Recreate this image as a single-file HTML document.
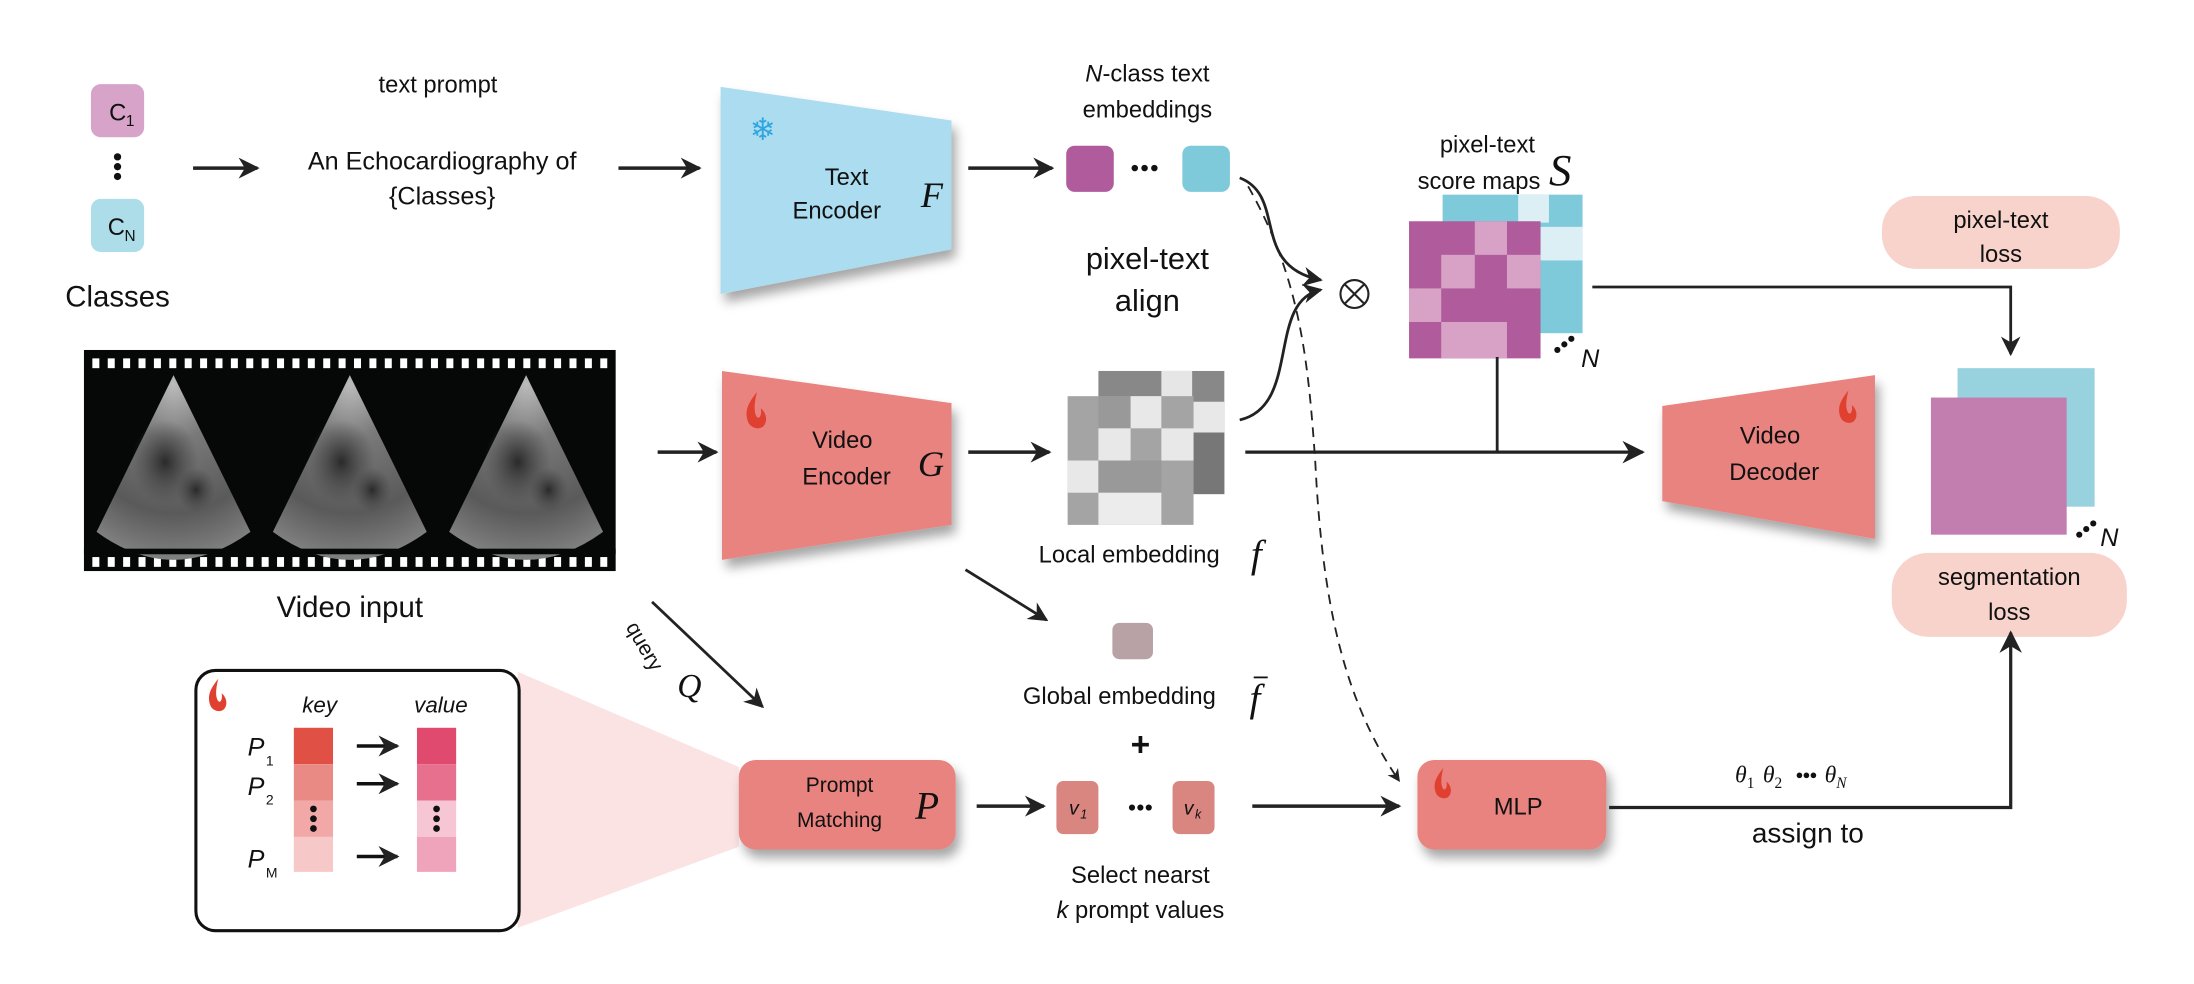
<!DOCTYPE html>
<html><head><meta charset="utf-8"><style>
html,body{margin:0;padding:0;background:#fff;}
svg{display:block;}
text{font-family:"Liberation Sans",sans-serif;fill:#111;}
.m{font-family:"Liberation Serif",serif;font-style:italic;}
</style></head><body>
<svg width="2194" height="984" viewBox="0 0 1568 703" xmlns="http://www.w3.org/2000/svg">
<defs>
<marker id="ah" viewBox="0 0 10 10" refX="9" refY="5" markerWidth="6" markerHeight="6" orient="auto-start-reverse"><path d="M0,0 L10,5 L0,10 L3,5 z" fill="#222"/></marker>
<marker id="ahs" viewBox="0 0 10 10" refX="9" refY="5" markerWidth="7" markerHeight="7" orient="auto"><path d="M0,0 L10,5 L0,10 L3,5 z" fill="#222"/></marker>
<filter id="sh" x="-20%" y="-20%" width="150%" height="160%"><feDropShadow dx="3" dy="6" stdDeviation="4" flood-color="#000" flood-opacity="0.35"/></filter>
<radialGradient id="us" cx="0.5" cy="0.05" r="1"><stop offset="0" stop-color="#bbb"/><stop offset="0.3" stop-color="#7a7a7a"/><stop offset="0.7" stop-color="#5a5a5a"/><stop offset="1" stop-color="#888"/></radialGradient>
<radialGradient id="cav" cx="0.5" cy="0.5" r="0.5"><stop offset="0" stop-color="#2a2a2a"/><stop offset="1" stop-color="#444" stop-opacity="0"/></radialGradient>
<symbol id="flame" viewBox="0 0 20 30"><path d="M10,0 C2,10 0,16 3,24 C5,29 13,31 16,26 C19,21 16,15 13,13 C14,18 12,22 10,20 C7,16 8,8 10,0z" fill="#e0402f"/></symbol>
</defs>

<!-- Classes -->
<rect x="65" y="60" width="38" height="38" rx="7" fill="#d8a3c9"/>
<text x="78" y="86" font-size="17">C</text><text x="90" y="90" font-size="11">1</text>
<circle cx="84" cy="112" r="2.6" fill="#111"/><circle cx="84" cy="119" r="2.6" fill="#111"/><circle cx="84" cy="126" r="2.6" fill="#111"/>
<rect x="65" y="142" width="38" height="38" rx="7" fill="#acdde8"/>
<text x="77" y="168" font-size="17">C</text><text x="89" y="172" font-size="11">N</text>
<text x="84" y="219" font-size="21" text-anchor="middle">Classes</text>
<line x1="138" y1="120" x2="184" y2="120" stroke="#222" stroke-width="2.5" marker-end="url(#ah)"/>

<text x="313" y="66" font-size="17" text-anchor="middle">text prompt</text>
<text x="316" y="121" font-size="18" text-anchor="middle">An Echocardiography of</text>
<text x="316" y="146" font-size="18" text-anchor="middle">{Classes}</text>
<line x1="442" y1="120" x2="500" y2="120" stroke="#222" stroke-width="2.5" marker-end="url(#ah)"/>

<!-- Text encoder -->
<polygon points="515,62 680,86 680,178 515,210" fill="#abdcef" filter="url(#sh)"/>
<text x="545" y="100" font-size="22" text-anchor="middle" style="fill:#2fa6e0">❄</text>
<text x="605" y="132" font-size="17" text-anchor="middle">Text</text>
<text x="598" y="156" font-size="17" text-anchor="middle">Encoder</text>
<text x="658" y="148" font-size="26" class="m">F</text>
<line x1="692" y1="120" x2="752" y2="120" stroke="#222" stroke-width="2.5" marker-end="url(#ah)"/>

<text x="820" y="58" font-size="17" text-anchor="middle"><tspan font-style="italic">N</tspan>-class text</text>
<text x="820" y="84" font-size="17" text-anchor="middle">embeddings</text>
<rect x="762" y="104" width="34" height="33" rx="6" fill="#b05c9c"/>
<circle cx="811" cy="120" r="2.3" fill="#111"/><circle cx="818" cy="120" r="2.3" fill="#111"/><circle cx="825" cy="120" r="2.3" fill="#111"/>
<rect x="845" y="104" width="34" height="33" rx="6" fill="#7ecadb"/>
<text x="820" y="192" font-size="22" text-anchor="middle">pixel-text</text>
<text x="820" y="222" font-size="22" text-anchor="middle">align</text>

<!-- curves -->
<path d="M886,127 C920,140 893,190 944,200" fill="none" stroke="#222" stroke-width="2" marker-end="url(#ahs)"/>
<path d="M886,300 C930,290 905,215 944,207" fill="none" stroke="#222" stroke-width="2" marker-end="url(#ahs)"/>
<circle cx="968" cy="210" r="10" fill="none" stroke="#222" stroke-width="1.5"/>
<line x1="961" y1="203" x2="975" y2="217" stroke="#222" stroke-width="1.5"/><line x1="975" y1="203" x2="961" y2="217" stroke="#222" stroke-width="1.5"/>
<path d="M892,133 C930,200 935,260 940,330 C945,430 960,500 1000,558" fill="none" stroke="#222" stroke-width="1.3" stroke-dasharray="7,5" marker-end="url(#ahs)"/>

<!-- score maps -->
<text x="1063" y="109" font-size="17" text-anchor="middle">pixel-text</text>
<text x="1057" y="135" font-size="17" text-anchor="middle">score maps</text>
<text x="1107" y="132" font-size="32" class="m">S</text>
<rect x="1031" y="139" width="100" height="99" fill="#7ecadb"/>
<rect x="1085" y="139" width="22" height="20" fill="#dbeff5"/><rect x="1100" y="162" width="31" height="24" fill="#dbeff5"/>
<g>
<rect x="1007" y="158" width="94" height="98" fill="#b05c9c"/>
<rect x="1054" y="158" width="23" height="24" fill="#d7a2c6"/>
<rect x="1030" y="182" width="24" height="24" fill="#d7a2c6"/><rect x="1077" y="182" width="24" height="24" fill="#d7a2c6"/>
<rect x="1007" y="206" width="23" height="24" fill="#d7a2c6"/>
<rect x="1030" y="230" width="47" height="26" fill="#d7a2c6"/>
</g>
<circle cx="1113" cy="250" r="2.2" fill="#111"/><circle cx="1118" cy="246" r="2.2" fill="#111"/><circle cx="1123" cy="242" r="2.2" fill="#111"/>
<text x="1130" y="262" font-size="18" font-style="italic">N</text>

<rect x="1345" y="140" width="170" height="52" rx="24" fill="#f7d3cc"/>
<text x="1430" y="163" font-size="17" text-anchor="middle">pixel-text</text>
<text x="1430" y="187" font-size="17" text-anchor="middle">loss</text>
<polyline points="1138,205 1437,205 1437,253" fill="none" stroke="#222" stroke-width="2" marker-end="url(#ahs)"/>

<!-- Video film -->
<rect x="60" y="250" width="380" height="158" fill="#060808"/>
<g id="perf">
<rect x="66" y="256" width="5" height="7" fill="#fff"/><rect x="77" y="256" width="5" height="7" fill="#fff"/><rect x="88" y="256" width="5" height="7" fill="#fff"/><rect x="99" y="256" width="5" height="7" fill="#fff"/><rect x="110" y="256" width="5" height="7" fill="#fff"/><rect x="121" y="256" width="5" height="7" fill="#fff"/><rect x="132" y="256" width="5" height="7" fill="#fff"/><rect x="143" y="256" width="5" height="7" fill="#fff"/><rect x="154" y="256" width="5" height="7" fill="#fff"/><rect x="165" y="256" width="5" height="7" fill="#fff"/><rect x="176" y="256" width="5" height="7" fill="#fff"/><rect x="187" y="256" width="5" height="7" fill="#fff"/><rect x="198" y="256" width="5" height="7" fill="#fff"/><rect x="209" y="256" width="5" height="7" fill="#fff"/><rect x="220" y="256" width="5" height="7" fill="#fff"/><rect x="231" y="256" width="5" height="7" fill="#fff"/><rect x="242" y="256" width="5" height="7" fill="#fff"/><rect x="253" y="256" width="5" height="7" fill="#fff"/><rect x="264" y="256" width="5" height="7" fill="#fff"/><rect x="275" y="256" width="5" height="7" fill="#fff"/><rect x="286" y="256" width="5" height="7" fill="#fff"/><rect x="297" y="256" width="5" height="7" fill="#fff"/><rect x="308" y="256" width="5" height="7" fill="#fff"/><rect x="319" y="256" width="5" height="7" fill="#fff"/><rect x="330" y="256" width="5" height="7" fill="#fff"/><rect x="341" y="256" width="5" height="7" fill="#fff"/><rect x="352" y="256" width="5" height="7" fill="#fff"/><rect x="363" y="256" width="5" height="7" fill="#fff"/><rect x="374" y="256" width="5" height="7" fill="#fff"/><rect x="385" y="256" width="5" height="7" fill="#fff"/><rect x="396" y="256" width="5" height="7" fill="#fff"/><rect x="407" y="256" width="5" height="7" fill="#fff"/><rect x="418" y="256" width="5" height="7" fill="#fff"/><rect x="429" y="256" width="5" height="7" fill="#fff"/>
</g>
<use href="#perf" y="142"/>
<g id="fan">
<path d="M124,268 L69,380 Q124,420 179,380 z" fill="url(#us)"/>
<ellipse cx="118" cy="330" rx="24" ry="30" fill="url(#cav)"/>
<ellipse cx="140" cy="350" rx="14" ry="16" fill="url(#cav)"/>
</g>
<use href="#fan" x="126"/>
<use href="#fan" x="252"/>
<rect x="60" y="392" width="380" height="4" fill="#060808"/>
<text x="250" y="441" font-size="21" text-anchor="middle">Video input</text>
<line x1="470" y1="323" x2="512" y2="323" stroke="#222" stroke-width="2.5" marker-end="url(#ah)"/>

<!-- Video encoder -->
<polygon points="516,265 680,288 680,375 516,400" fill="#e8837f" filter="url(#sh)"/>
<use href="#flame" x="532" y="280" width="18" height="27"/>
<text x="602" y="320" font-size="17" text-anchor="middle">Video</text>
<text x="605" y="346" font-size="17" text-anchor="middle">Encoder</text>
<text x="656" y="340" font-size="26" class="m">G</text>
<line x1="692" y1="323" x2="750" y2="323" stroke="#222" stroke-width="2.5" marker-end="url(#ah)"/>

<!-- local embedding -->
<rect x="785" y="265" width="90" height="88" fill="#888"/>
<rect x="830" y="265" width="22" height="22" fill="#e6e6e6"/><rect x="852" y="287" width="23" height="22" fill="#e8e8e8"/><rect x="852" y="309" width="23" height="44" fill="#777"/>
<rect x="763" y="283" width="90" height="92" fill="#a4a4a4"/>
<rect x="785" y="283" width="23" height="23" fill="#999"/><rect x="808" y="283" width="22" height="23" fill="#e8e8e8"/>
<rect x="785" y="306" width="23" height="23" fill="#e8e8e8"/><rect x="830" y="306" width="23" height="23" fill="#e8e8e8"/>
<rect x="763" y="329" width="22" height="23" fill="#e8e8e8"/><rect x="785" y="329" width="45" height="23" fill="#999"/>
<rect x="785" y="352" width="45" height="23" fill="#ececec"/>
<text x="807" y="402" font-size="17" text-anchor="middle">Local embedding</text>
<text x="894" y="405" font-size="28" class="m">f</text>

<line x1="890" y1="323" x2="1174" y2="323" stroke="#222" stroke-width="2.3" marker-end="url(#ahs)"/>
<line x1="1070" y1="255" x2="1070" y2="323" stroke="#222" stroke-width="2"/>

<!-- Video decoder -->
<polygon points="1188,290 1340,268 1340,385 1188,358" fill="#e8837f" filter="url(#sh)"/>
<use href="#flame" x="1313" y="278" width="16" height="26"/>
<text x="1265" y="317" font-size="17" text-anchor="middle">Video</text>
<text x="1268" y="343" font-size="17" text-anchor="middle">Decoder</text>

<rect x="1399" y="263" width="98" height="99" fill="#98d2df"/>
<rect x="1380" y="284" width="97" height="98" fill="#c27eaf"/>
<circle cx="1486" cy="382" r="2.2" fill="#111"/><circle cx="1491" cy="378" r="2.2" fill="#111"/><circle cx="1496" cy="374" r="2.2" fill="#111"/>
<text x="1501" y="390" font-size="18" font-style="italic">N</text>
<rect x="1352" y="395" width="168" height="60" rx="26" fill="#f7d3cc"/>
<text x="1436" y="418" font-size="17" text-anchor="middle">segmentation</text>
<text x="1436" y="443" font-size="17" text-anchor="middle">loss</text>

<!-- Global embedding -->
<line x1="690" y1="407" x2="748" y2="443" stroke="#222" stroke-width="2" marker-end="url(#ahs)"/>
<rect x="795" y="445" width="29" height="26" rx="5" fill="#b8a2a6"/>
<text x="800" y="503" font-size="17" text-anchor="middle">Global embedding</text>
<text x="893" y="508" font-size="28" class="m">f</text>
<line x1="896" y1="484" x2="906" y2="484" stroke="#111" stroke-width="1.3"/>
<text x="815" y="540" font-size="24" font-weight="bold" text-anchor="middle">+</text>

<!-- query -->
<line x1="466" y1="430" x2="545" y2="505" stroke="#222" stroke-width="2" marker-end="url(#ahs)"/>
<text x="447" y="448" font-size="15" transform="rotate(60 447 448)">query</text>
<text x="484" y="498" font-size="24" class="m">Q</text>

<!-- prompt pool -->
<polygon points="370,480 528,548 528,605 370,663" fill="#fbe3e3"/>
<rect x="140" y="479" width="231" height="186" rx="14" fill="#fff" stroke="#111" stroke-width="2.2"/>
<use href="#flame" x="148" y="484" width="16" height="26"/>
<text x="216" y="509" font-size="16" font-style="italic">key</text>
<text x="296" y="509" font-size="16" font-style="italic">value</text>
<rect x="210" y="520" width="28" height="26" fill="#e05044"/><rect x="210" y="546" width="28" height="26" fill="#ea8a84"/><rect x="210" y="572" width="28" height="26" fill="#f1a8a6"/><rect x="210" y="598" width="28" height="25" fill="#f7c8c8"/>
<rect x="298" y="520" width="28" height="26" fill="#e04a6e"/><rect x="298" y="546" width="28" height="26" fill="#e6708e"/><rect x="298" y="572" width="28" height="26" fill="#f6c6d4"/><rect x="298" y="598" width="28" height="25" fill="#f0a4bc"/>
<g fill="#111"><circle cx="224" cy="578" r="2.4"/><circle cx="224" cy="585" r="2.4"/><circle cx="224" cy="592" r="2.4"/><circle cx="312" cy="578" r="2.4"/><circle cx="312" cy="585" r="2.4"/><circle cx="312" cy="592" r="2.4"/></g>
<text x="177" y="540" font-size="18" font-style="italic">P</text><text x="190" y="547" font-size="10">1</text>
<text x="177" y="568" font-size="18" font-style="italic">P</text><text x="190" y="575" font-size="10">2</text>
<text x="177" y="620" font-size="18" font-style="italic">P</text><text x="190" y="627" font-size="10">M</text>
<g stroke="#111" stroke-width="2.5"><line x1="255" y1="533" x2="284" y2="533" marker-end="url(#ah)"/><line x1="255" y1="560" x2="284" y2="560" marker-end="url(#ah)"/><line x1="255" y1="612" x2="284" y2="612" marker-end="url(#ah)"/></g>

<!-- prompt matching -->
<rect x="528" y="543" width="155" height="64" rx="12" fill="#e8837f" filter="url(#sh)"/>
<text x="600" y="566" font-size="15" text-anchor="middle">Prompt</text>
<text x="600" y="591" font-size="15" text-anchor="middle">Matching</text>
<text x="654" y="585" font-size="28" class="m">P</text>
<line x1="698" y1="576" x2="746" y2="576" stroke="#222" stroke-width="2.5" marker-end="url(#ah)"/>
<rect x="755" y="558" width="30" height="38" rx="5" fill="#d98580"/>
<text x="764" y="582" font-size="14" font-style="italic">v</text><text x="772" y="585" font-size="9" font-style="italic">1</text>
<circle cx="809" cy="577" r="2.2" fill="#111"/><circle cx="815" cy="577" r="2.2" fill="#111"/><circle cx="821" cy="577" r="2.2" fill="#111"/>
<rect x="838" y="558" width="30" height="38" rx="5" fill="#d98580"/>
<text x="846" y="582" font-size="14" font-style="italic">v</text><text x="854" y="585" font-size="9" font-style="italic">k</text>
<line x1="895" y1="576" x2="1000" y2="576" stroke="#222" stroke-width="2.5" marker-end="url(#ah)"/>
<text x="815" y="631" font-size="17" text-anchor="middle">Select nearst</text>
<text x="815" y="656" font-size="17" text-anchor="middle"><tspan font-style="italic">k</tspan> prompt values</text>

<!-- MLP -->
<rect x="1013" y="543" width="135" height="64" rx="12" fill="#e8837f" filter="url(#sh)"/>
<use href="#flame" x="1024" y="548" width="15" height="24"/>
<text x="1085" y="582" font-size="17" text-anchor="middle">MLP</text>
<polyline points="1150,577 1437,577 1437,452" fill="none" stroke="#222" stroke-width="2.3" marker-end="url(#ahs)"/>
<text x="1240" y="559" font-size="17" class="m">θ<tspan font-size="11" font-style="normal" dy="4">1</tspan><tspan dx="6" dy="-4">θ</tspan><tspan font-size="11" font-style="normal" dy="4">2</tspan></text>
<circle cx="1286" cy="554" r="2" fill="#111"/><circle cx="1291" cy="554" r="2" fill="#111"/><circle cx="1296" cy="554" r="2" fill="#111"/>
<text x="1304" y="559" font-size="17" class="m">θ<tspan font-size="11" dy="4">N</tspan></text>
<text x="1292" y="602" font-size="20" text-anchor="middle">assign to</text>
</svg>
</body></html>
